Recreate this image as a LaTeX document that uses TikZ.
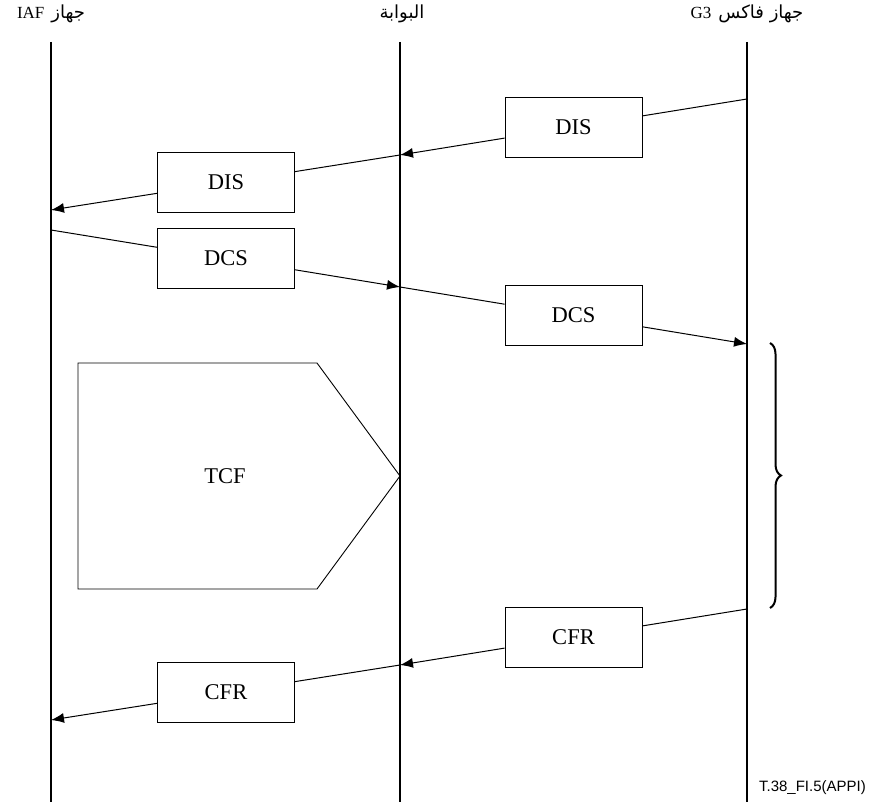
\documentclass[tikz,border=0pt]{standalone}
\usepackage{fontspec}
\setmainfont{Liberation Serif}
\newfontfamily\arabicfont[Script=Arabic]{DejaVu Sans}
\newfontfamily\footfont{Liberation Sans}
\TeXXeTstate=1
\usetikzlibrary{arrows.meta,decorations.pathreplacing}
\tikzset{
  lifeline/.style={line width=2pt},
  msgbox/.style={draw, line width=0.9pt, fill=white, minimum width=137pt, minimum height=60pt, inner sep=0pt, font=\fontsize{22.5}{26}\selectfont},
  msg/.style={line width=1pt},
  msgarrow/.style={line width=1pt, -{Latex[length=13pt,width=10pt]}},
  header/.style={font=\fontsize{17}{20}\selectfont, inner sep=0pt},
}
\newcommand{\arab}[1]{{\arabicfont\fontsize{18}{20}\selectfont #1}}
\begin{document}
\begin{tikzpicture}[x=1pt,y=-1pt]
\useasboundingbox (0,0) rectangle (872,802);
% lifelines
\coordinate (iaftop) at (51,42);
\coordinate (iafbot) at (51,802);
\coordinate (gwtop) at (400,42);
\coordinate (gwbot) at (400,802);
\coordinate (g3top) at (747,42);
\coordinate (g3bot) at (747,802);
\draw[lifeline] (iaftop) -- (iafbot);
\draw[lifeline] (gwtop) -- (gwbot);
\draw[lifeline] (g3top) -- (g3bot);
% headers
\node[header] (hiaf) at (51,14) {\beginR\arab{جهاز}\hspace{7pt}\beginL IAF\endL\endR};
\node[header] (hgw) at (402,14) {\beginR\arab{البوابة}\endR};
\node[header] (hg3) at (747,14) {\beginR\arab{جهاز فاكس}\hspace{7pt}\beginL G3\endL\endR};
% message endpoints
\coordinate (p1) at (747,99);
\coordinate (p2) at (400,155);
\coordinate (p3) at (51,210);
\coordinate (p4) at (51,230);
\coordinate (p5) at (400,287);
\coordinate (p6) at (747,344);
\coordinate (p7) at (747,609);
\coordinate (p8) at (400,665);
\coordinate (p9) at (51,720);
% boxes
\node[msgbox] (dis1) at (573.5,127) {DIS};
\node[msgbox] (dis2) at (226,182.5) {DIS};
\node[msgbox] (dcs1) at (226,258.5) {DCS};
\node[msgbox] (dcs2) at (573.5,315.5) {DCS};
\node[msgbox] (cfr1) at (573.5,637) {CFR};
\node[msgbox] (cfr2) at (226,692.5) {CFR};
% messages
\draw[msg] (p1) -- (dis1);
\draw[msgarrow] (dis1) -- (p2);
\draw[msg] (p2) -- (dis2);
\draw[msgarrow] (dis2) -- (p3);
\draw[msg] (p4) -- (dcs1);
\draw[msgarrow] (dcs1) -- (p5);
\draw[msg] (p5) -- (dcs2);
\draw[msgarrow] (dcs2) -- (p6);
\draw[msg] (p7) -- (cfr1);
\draw[msgarrow] (cfr1) -- (p8);
\draw[msg] (p8) -- (cfr2);
\draw[msgarrow] (cfr2) -- (p9);
% TCF
\draw[line width=0.9pt] (78,363) -- (317,363) -- (400,476) -- (317,589) -- (78,589) -- cycle;
\node[font=\fontsize{22.5}{26}\selectfont] (tcf) at (225,476) {TCF};
% brace
\coordinate (btop) at (770,343);
\coordinate (bbot) at (770,608);
\draw[line width=2pt, decorate, decoration={brace, amplitude=11pt}] (btop) -- (bbot);
% footer
\node[font=\footfont\fontsize{15}{18}\selectfont, anchor=base east, inner sep=0pt] (foot) at (866,791) {T.38\_FI.5(APPI)};
\end{tikzpicture}
\end{document}
